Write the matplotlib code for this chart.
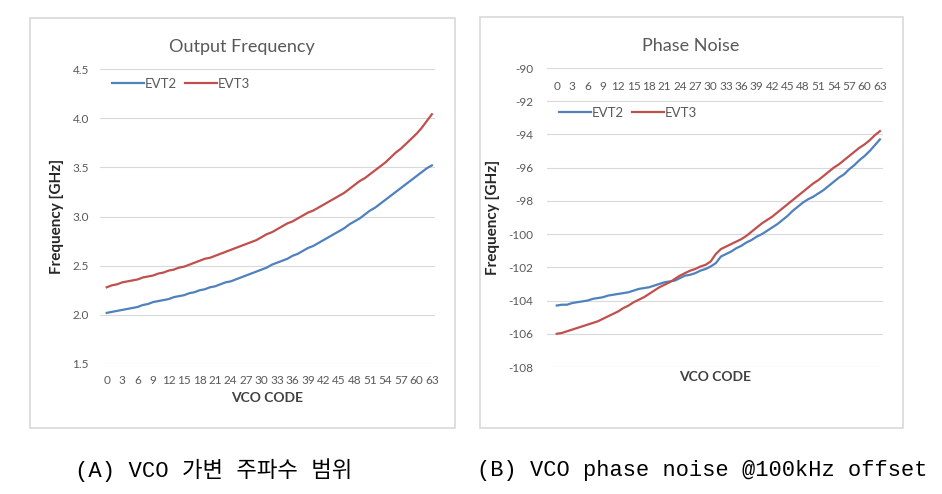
import numpy as np
import matplotlib
matplotlib.use('Agg')
import matplotlib.pyplot as plt
from matplotlib.patches import Rectangle

# VCO code axis
codes = list(range(64))
tick_codes = list(range(0, 64, 3))

# (A) output frequency [GHz]
freq_evt2 = [2.02, 2.03, 2.04, 2.05, 2.06, 2.07, 2.08, 2.10, 2.11, 2.13,
             2.14, 2.15, 2.16, 2.18, 2.19, 2.20, 2.22, 2.23, 2.25, 2.26,
             2.28, 2.29, 2.31, 2.33, 2.34, 2.36, 2.38, 2.40, 2.42, 2.44,
             2.46, 2.48, 2.51, 2.53, 2.55, 2.57, 2.60, 2.62, 2.65, 2.68,
             2.70, 2.73, 2.76, 2.79, 2.82, 2.85, 2.88, 2.92, 2.95, 2.98,
             3.02, 3.06, 3.09, 3.13, 3.17, 3.21, 3.25, 3.29, 3.33, 3.37,
             3.41, 3.45, 3.49, 3.52]
freq_evt3 = [2.28, 2.30, 2.31, 2.33, 2.34, 2.35, 2.36, 2.38, 2.39, 2.40,
             2.42, 2.43, 2.45, 2.46, 2.48, 2.49, 2.51, 2.53, 2.55, 2.57,
             2.58, 2.60, 2.62, 2.64, 2.66, 2.68, 2.70, 2.72, 2.74, 2.76,
             2.79, 2.82, 2.84, 2.87, 2.90, 2.93, 2.95, 2.98, 3.01, 3.04,
             3.06, 3.09, 3.12, 3.15, 3.18, 3.21, 3.24, 3.28, 3.32, 3.36,
             3.39, 3.43, 3.47, 3.51, 3.55, 3.60, 3.65, 3.69, 3.74, 3.79,
             3.84, 3.90, 3.97, 4.04]

# (B) phase noise @100kHz offset
pn_evt2 = [-104.3, -104.25, -104.25, -104.15, -104.1, -104.05, -104.0, -103.9,
           -103.85, -103.8, -103.7, -103.65, -103.6, -103.55, -103.5, -103.4,
           -103.3, -103.25, -103.2, -103.1, -103.0, -102.9, -102.85, -102.8,
           -102.65, -102.5, -102.45, -102.35, -102.2, -102.1, -101.95, -101.75,
           -101.35, -101.2, -101.05, -100.85, -100.7, -100.5, -100.35, -100.15,
           -100.0, -99.8, -99.6, -99.4, -99.15, -98.9, -98.6, -98.35,
           -98.1, -97.9, -97.75, -97.55, -97.35, -97.1, -96.85, -96.6,
           -96.4, -96.1, -95.85, -95.55, -95.3, -95.0, -94.65, -94.3]
pn_evt3 = [-106.0, -105.95, -105.85, -105.75, -105.65, -105.55, -105.45, -105.35,
           -105.25, -105.1, -104.95, -104.8, -104.65, -104.45, -104.3, -104.1,
           -103.95, -103.8, -103.6, -103.4, -103.2, -103.05, -102.9, -102.7,
           -102.5, -102.35, -102.2, -102.1, -101.95, -101.85, -101.65, -101.2,
           -100.9, -100.75, -100.6, -100.45, -100.3, -100.1, -99.85, -99.6,
           -99.35, -99.15, -98.95, -98.7, -98.45, -98.2, -97.95, -97.7,
           -97.45, -97.2, -96.95, -96.75, -96.5, -96.25, -96.0, -95.8,
           -95.55, -95.3, -95.05, -94.8, -94.6, -94.35, -94.05, -93.8]

blue = '#4F81BD'
red = '#C0504D'
grid_c = '#D9D9D9'
txt_c = '#595959'

plt.rcParams['font.family'] = ['Lato', 'DejaVu Sans']
plt.rcParams['axes.unicode_minus'] = False

fig = plt.figure(figsize=(9.42, 4.94), dpi=100)
W, H = 942, 494

def px_axes(l, t, r, b):
    return fig.add_axes([l / W, 1 - b / H, (r - l) / W, (b - t) / H])

# chart-area borders
for (l, t, r, b) in [(30, 18, 455, 428), (480, 17, 903, 428)]:
    fig.patches.append(Rectangle((l / W, 1 - b / H), (r - l) / W, (b - t) / H,
                                 transform=fig.transFigure, fill=False,
                                 edgecolor=grid_c, linewidth=1.2))

def style(ax):
    for s in ax.spines.values():
        s.set_visible(False)
    ax.grid(axis='y', color=grid_c, linewidth=0.8)
    ax.set_axisbelow(True)
    ax.tick_params(axis='both', length=0, colors=txt_c, labelsize=8.5)
    ax.set_xticks(tick_codes)
    ax.set_xticklabels([str(c) for c in tick_codes])

# (A) output frequency
ax1 = px_axes(100, 69, 435, 364)
ax1.plot(codes, freq_evt2, color=blue, lw=1.6, label='EVT2')
ax1.plot(codes, freq_evt3, color=red, lw=1.6, label='EVT3')
ax1.set_ylim(1.5, 4.5)
ax1.set_yticks(np.arange(1.5, 4.51, 0.5))
ax1.set_yticklabels(['1.5', '2.0', '2.5', '3.0', '3.5', '4.0', '4.5'])
ax1.set_xlim(-1.3, 63.6)
style(ax1)
ax1.tick_params(axis='x', pad=8)
ax1.tick_params(axis='y', pad=8)
ax1.set_title('Output Frequency', color=txt_c, fontsize=13, pad=12, x=0.424)
ax1.set_xlabel('VCO CODE', fontweight='bold', color='#404040', fontsize=10, labelpad=4)
ax1.set_ylabel('Frequency [GHz]', fontweight='bold', color='#262626', fontsize=11, labelpad=6)
ax1.legend(loc='upper left', bbox_to_anchor=(0.0, 1.01), ncol=2, frameon=False,
           fontsize=9.5, handlelength=2.4, handletextpad=0.1, columnspacing=0.6,
           labelcolor=txt_c)

# (B) phase noise
ax2 = px_axes(547, 68, 883, 367)
ax2.plot(codes, pn_evt2, color=blue, lw=1.6, label='EVT2')
ax2.plot(codes, pn_evt3, color=red, lw=1.6, label='EVT3')
ax2.set_ylim(-108, -90)
ax2.set_yticks(np.arange(-108, -89, 2))
ax2.set_xlim(-1.9, 63.6)
style(ax2)
ax2.tick_params(axis='x', labelbottom=False, labeltop=True, pad=-17)
ax2.tick_params(axis='y', pad=10)
ax2.set_title('Phase Noise', color=txt_c, fontsize=13, pad=12, x=0.429)
ax2.set_xlabel('VCO CODE', fontweight='bold', color='#404040', fontsize=10, labelpad=3)
ax2.set_ylabel('Frequency [GHz]', fontweight='bold', color='#262626', fontsize=11, labelpad=6)
ax2.legend(loc='upper left', bbox_to_anchor=(0.0, 0.91), ncol=2, frameon=False,
           fontsize=9.5, handlelength=2.4, handletextpad=0.1, columnspacing=0.6,
           labelcolor=txt_c)

# captions
cap_font = ['Liberation Mono', 'Noto Sans CJK KR']
fig.text(75 / W, 1 - 470 / H, '(A) VCO 가변 주파수 범위', family=cap_font,
         fontsize=16, va='center', ha='left', color='black')
fig.text(477 / W, 1 - 470 / H, '(B) VCO phase noise @100kHz offset', family=cap_font,
         fontsize=15.8, va='center', ha='left', color='black')

fig.savefig('out.png', dpi=100, facecolor='white')
